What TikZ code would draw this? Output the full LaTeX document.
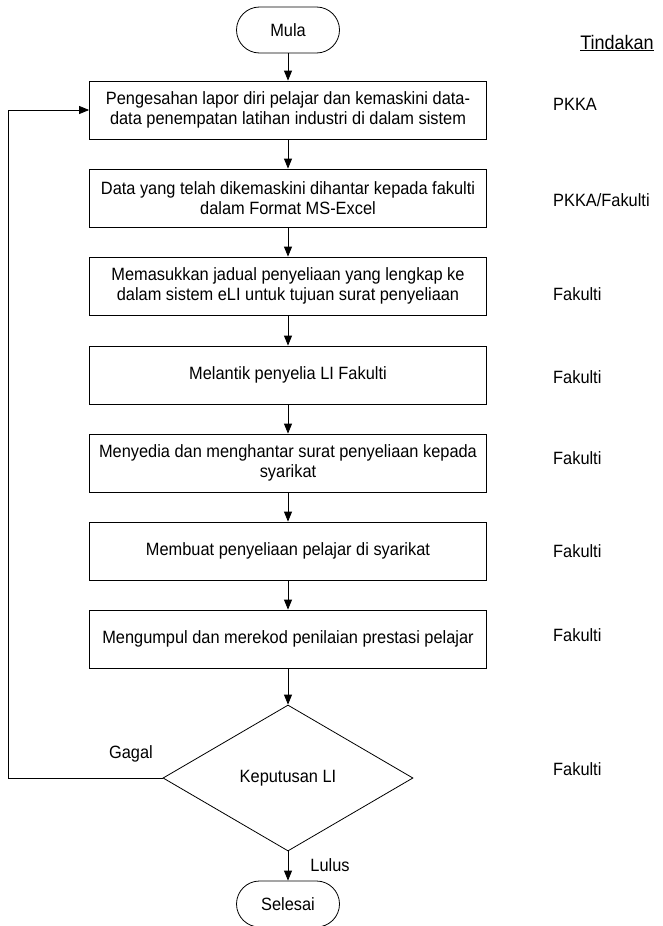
\documentclass[tikz,border=0pt]{standalone}
\usepackage{fontspec}
\setmainfont{Liberation Sans}[FakeStretch=0.92]
\usetikzlibrary{shapes.geometric,arrows.meta}
\begin{document}
\begin{tikzpicture}[x=1pt,y=-1pt,
  every node/.style={font=\fontsize{17.8}{20}\selectfont},
  procbox/.style={draw, line width=0.8pt, minimum width=397pt, minimum height=58pt, align=center, inner sep=0pt},
  term/.style={draw, line width=0.8pt, rounded corners=23pt, minimum width=103pt, minimum height=46pt, inner sep=0pt},
  decision/.style={draw, diamond, line width=0.8pt, minimum width=250pt, minimum height=146pt, inner sep=0pt},
  lbl/.style={anchor=west, inner sep=0pt},
  flow/.style={line width=0.8pt, -{Triangle[length=10pt,width=8pt]}}
]
\useasboundingbox (0,0) rectangle (663,926);

\node[term] (mula) at (288,30) {Mula};
\node[inner sep=0pt, font=\fontsize{19.6}{22}\selectfont] (tindakan) at (617,43) {\underline{Tindakan}};

\node[procbox] (b1) at (288,110) {Pengesahan lapor diri pelajar dan kemaskini data-\\data penempatan latihan industri di dalam sistem};
\node[procbox] (b2) at (288,198) {Data yang telah dikemaskini dihantar kepada fakulti\\dalam Format MS-Excel};
\node[procbox] (b3) at (288,286) {Memasukkan jadual penyeliaan yang lengkap ke\\dalam sistem eLI untuk tujuan surat penyeliaan};
\node[procbox] (b4) at (288,375) {Melantik penyelia LI Fakulti};
\node[procbox] (b5) at (288,463) {Menyedia dan menghantar surat penyeliaan kepada\\syarikat};
\node[procbox] (b6) at (288,551) {Membuat penyeliaan pelajar di syarikat};
\node[procbox] (b7) at (288,639) {Mengumpul dan merekod penilaian prestasi pelajar};

\node[decision] (d) at (288,778) {Keputusan LI};
\node[term] (selesai) at (288,904) {Selesai};

\node[lbl] (t1) at (553,104) {PKKA};
\node[lbl] (t2) at (553,200) {PKKA/Fakulti};
\node[lbl] (t3) at (553,294) {Fakulti};
\node[lbl] (t4) at (553,377) {Fakulti};
\node[lbl] (t5) at (553,458) {Fakulti};
\node[lbl] (t6) at (553,551) {Fakulti};
\node[lbl] (t7) at (553,635) {Fakulti};
\node[lbl] (t8) at (553,769) {Fakulti};

\node[inner sep=0pt] (gagal) at (131,754) {Gagal};
\node[inner sep=0pt] (lulus) at (330,865) {Lulus};

\coordinate (lb) at (8,778);
\coordinate (lt) at (8,110);

\draw[flow] (mula) -- (b1);
\draw[flow] (b1) -- (b2);
\draw[flow] (b2) -- (b3);
\draw[flow] (b3) -- (b4);
\draw[flow] (b4) -- (b5);
\draw[flow] (b5) -- (b6);
\draw[flow] (b6) -- (b7);
\draw[flow] (b7) -- (d.north);
\draw[flow] (d.south) -- (selesai);
\draw[flow] (d.west) -- (lb) -- (lt) -- (b1.west);
\end{tikzpicture}
\end{document}
